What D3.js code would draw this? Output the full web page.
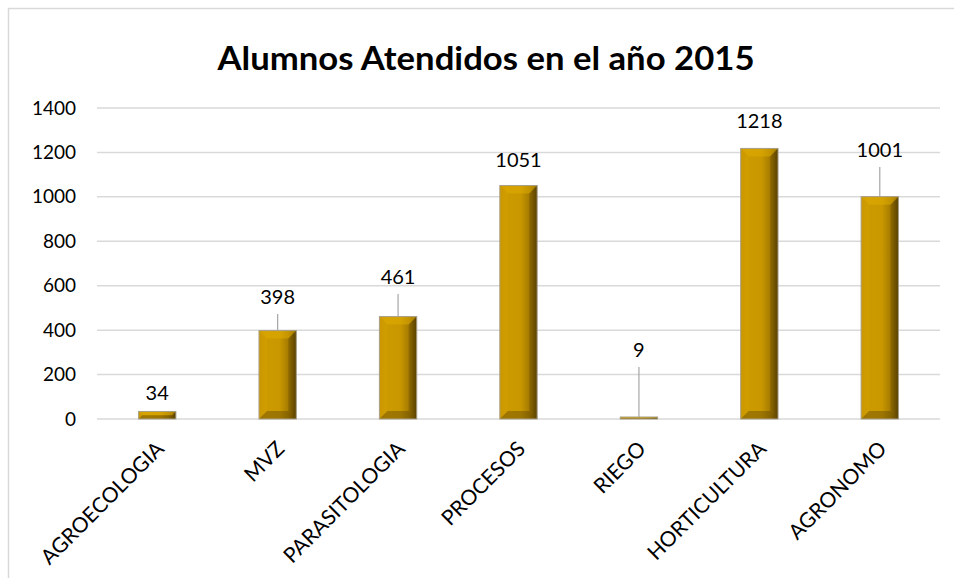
<!DOCTYPE html>
<html>
<head>
<meta charset="utf-8">
<script src="https://cdn.jsdelivr.net/npm/d3@7"></script>
<style>
  html, body { margin: 0; padding: 0; background: #fff; }
  svg { display: block; }
  text { font-family: Lato, "Open Sans", sans-serif; }
</style>
</head>
<body>
<svg id="chart" width="954" height="578"></svg>
<script>
const title = "Alumnos Atendidos en el año 2015";
const categories = ["AGROECOLOGIA", "MVZ", "PARASITOLOGIA", "PROCESOS", "RIEGO", "HORTICULTURA", "AGRONOMO"];
const values = [34, 398, 461, 1051, 9, 1218, 1001];
// where each data label sits, in data units (labels were moved by hand in the original)
const labelAt = [117, 549, 639, 1166, 311, 1342, 1211];
const yTicks = [0, 200, 400, 600, 800, 1000, 1200, 1400];

const svg = d3.select("#chart");

// chart area border
svg.append("rect").attr("x", 8.5).attr("y", 8.5).attr("width", 960).attr("height", 600)
  .attr("fill", "#fff").attr("stroke", "#d9d9d9").attr("stroke-width", 1.5);

const x = d3.scaleBand().domain(categories).range([97, 940]).paddingInner(0.69).paddingOuter(0.345);
const y = d3.scaleLinear().domain([0, 1400]).range([419, 108]);

// defs: gradients for bevelled bars
const defs = svg.append("defs");
const g1 = defs.append("linearGradient").attr("id", "barGrad").attr("x1", "0").attr("x2", "1").attr("y1", "0").attr("y2", "0");
[[0, "#c29200"], [0.18, "#cc9a00"], [0.55, "#c99800"], [0.8, "#a47a00"], [1, "#604600"]]
  .forEach(([o, c]) => g1.append("stop").attr("offset", o).attr("stop-color", c));

// title
svg.append("text").attr("x", 486).attr("y", 70).attr("text-anchor", "middle")
  .attr("font-size", 33).attr("font-weight", "bold").attr("fill", "#000")
  .attr("textLength", 537).attr("lengthAdjust", "spacingAndGlyphs")
  .text(title);

// gridlines
svg.append("g").selectAll("line").data(yTicks).join("line")
  .attr("x1", 97).attr("x2", 940)
  .attr("y1", d => y(d)).attr("y2", d => y(d))
  .attr("stroke", "#d9d9d9").attr("stroke-width", 1.5);

// y axis labels
const yAxis = d3.axisLeft(y).tickValues(yTicks).tickFormat(d3.format("d")).tickSize(0).tickPadding(0);
const ya = svg.append("g").attr("transform", "translate(76,0)").call(yAxis);
ya.select(".domain").remove();
ya.selectAll("text").attr("font-size", 19).attr("fill", "#000")
  .attr("font-family", "Lato, 'Open Sans', sans-serif");

// x axis labels
const xAxis = d3.axisBottom(x).tickSize(0).tickPadding(0);
const xa = svg.append("g").call(xAxis);
xa.select(".domain").remove();
xa.selectAll(".tick").attr("transform", d => `translate(${x(d) + x.bandwidth() / 2 - 3},439)`);
xa.selectAll("text")
  .attr("y", 0).attr("x", 0).attr("dy", "0.75em")
  .attr("text-anchor", "end")
  .attr("transform", "rotate(-45)")
  .attr("font-size", 21).attr("fill", "#000")
  .attr("font-family", "Lato, 'Open Sans', sans-serif");

// bars
const bars = svg.append("g").selectAll("g").data(categories).join("g");
bars.each(function (c, i) {
  const g = d3.select(this);
  const bx = x(c), bw = x.bandwidth();
  const top = y(values[i]), bot = y(0), bh = bot - top;
  const b = Math.min(8, bh / 2, bw / 2);
  g.append("rect").attr("x", bx).attr("y", top).attr("width", bw).attr("height", bh)
    .attr("fill", "url(#barGrad)");
  // top bevel (lighter)
  g.append("path").attr("d", `M${bx},${top}L${bx + bw},${top}L${bx + bw - b},${top + b}L${bx + b},${top + b}Z`)
    .attr("fill", "#e2ad00").attr("opacity", 0.5);
  // left bevel (slightly lighter)
  g.append("path").attr("d", `M${bx},${top}L${bx + b},${top + b}L${bx + b},${bot - b}L${bx},${bot}Z`)
    .attr("fill", "#d9a600").attr("opacity", 0.3);
  // right bevel (dark)
  g.append("path").attr("d", `M${bx + bw},${top}L${bx + bw},${bot}L${bx + bw - b},${bot - b}L${bx + bw - b},${top + b}Z`)
    .attr("fill", "#3f2e00").attr("opacity", 0.22);
  // bottom bevel (dark)
  g.append("path").attr("d", `M${bx},${bot}L${bx + b},${bot - b}L${bx + bw - b},${bot - b}L${bx + bw},${bot}Z`)
    .attr("fill", "#5a4200").attr("opacity", 0.4);
  // outline
  g.append("rect").attr("x", bx).attr("y", top).attr("width", bw).attr("height", bh)
    .attr("fill", "none").attr("stroke", "#a89f8a").attr("stroke-width", 1);
});

// data labels and leader lines
categories.forEach((c, i) => {
  const cx = x(c) + x.bandwidth() / 2;
  const ly = y(labelAt[i]);
  const top = y(values[i]);
  if (top - (ly + 9) > 20) {
    svg.append("line").attr("x1", cx).attr("x2", cx)
      .attr("y1", ly + 17).attr("y2", top)
      .attr("stroke", "#a6a6a6").attr("stroke-width", 1.2);
  }
  svg.append("text").attr("x", cx).attr("y", ly).attr("dy", "0.35em")
    .attr("text-anchor", "middle").attr("font-size", 20).attr("fill", "#000")
    .text(values[i]);
});
</script>
</body>
</html>
